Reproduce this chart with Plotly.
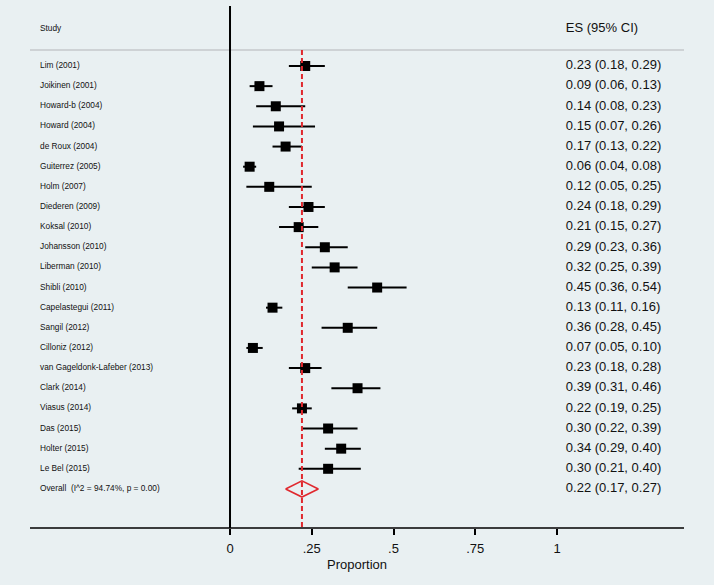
import plotly.graph_objects as go

# --- data ---
studies = [
    "Lim (2001)", "Joikinen (2001)", "Howard-b (2004)", "Howard (2004)",
    "de Roux (2004)", "Guiterrez (2005)", "Holm (2007)", "Diederen (2009)",
    "Koksal (2010)", "Johansson (2010)", "Liberman (2010)", "Shibli (2010)",
    "Capelastegui (2011)", "Sangil (2012)", "Cilloniz (2012)",
    "van Gageldonk-Lafeber (2013)", "Clark (2014)", "Viasus (2014)",
    "Das (2015)", "Holter (2015)", "Le Bel (2015)",
]
es = [0.23, 0.09, 0.14, 0.15, 0.17, 0.06, 0.12, 0.24, 0.21, 0.29, 0.32,
      0.45, 0.13, 0.36, 0.07, 0.23, 0.39, 0.22, 0.30, 0.34, 0.30]
ci_low = [0.18, 0.06, 0.08, 0.07, 0.13, 0.04, 0.05, 0.18, 0.15, 0.23, 0.25,
          0.36, 0.11, 0.28, 0.05, 0.18, 0.31, 0.19, 0.22, 0.29, 0.21]
ci_high = [0.29, 0.13, 0.23, 0.26, 0.22, 0.08, 0.25, 0.29, 0.27, 0.36, 0.39,
           0.54, 0.16, 0.45, 0.10, 0.28, 0.46, 0.25, 0.39, 0.40, 0.40]
overall_label = "Overall  (I^2 = 94.74%, p = 0.00)"
overall = [0.22, 0.17, 0.27]
x_ticks = [0, 0.25, 0.5, 0.75, 1]
x_ticklabels = ["0", ".25", ".5", ".75", "1"]

BG = "#e9f0f2"
RED = "#e0282e"
FONT = "Liberation Sans, Arial, sans-serif"

rows = list(range(len(studies)))
ov_row = len(studies)

fig = go.Figure()

# CI lines + squares
fig.add_trace(go.Scatter(
    x=es, y=rows, mode="markers",
    marker=dict(symbol="square", size=10, color="black"),
    error_x=dict(type="data", symmetric=False,
                 array=[h - e for h, e in zip(ci_high, es)],
                 arrayminus=[e - l for e, l in zip(es, ci_low)],
                 color="black", thickness=2, width=0),
    hoverinfo="skip", showlegend=False,
))

# overall diamond
fig.add_trace(go.Scatter(
    x=[overall[1], overall[0], overall[2], overall[0], overall[1]],
    y=[ov_row, ov_row - 0.4, ov_row, ov_row + 0.4, ov_row],
    mode="lines", line=dict(color=RED, width=1.6),
    hoverinfo="skip", showlegend=False,
))

# study labels
label_x = -0.581
fig.add_trace(go.Scatter(
    x=[label_x] * (len(studies) + 1), y=rows + [ov_row],
    text=studies + [overall_label], mode="text", textposition="middle right",
    textfont=dict(family=FONT, size=8.3, color="#111111"),
    hoverinfo="skip", showlegend=False, cliponaxis=False,
))

# ES column
es_text = [f"{e:.2f} ({l:.2f}, {h:.2f})" for e, l, h in zip(es, ci_low, ci_high)]
es_text.append(f"{overall[0]:.2f} ({overall[1]:.2f}, {overall[2]:.2f})")
fig.add_trace(go.Scatter(
    x=[1.027] * len(es_text), y=rows + [ov_row],
    text=es_text, mode="text", textposition="middle right",
    textfont=dict(family=FONT, size=13, color="#111111"),
    hoverinfo="skip", showlegend=False, cliponaxis=False,
))

# headers
fig.add_trace(go.Scatter(
    x=[label_x, 1.027], y=[-1.85, -1.85], text=["Study", "ES (95% CI)"],
    mode="text", textposition="middle right",
    textfont=dict(family=FONT, size=[8.3, 13], color="#111111"),
    hoverinfo="skip", showlegend=False, cliponaxis=False,
))

x0, x1 = -0.7034, 1.4801
px = lambda p: x0 + p / 714 * (x1 - x0)

shapes = [
    # header separator
    dict(type="line", xref="x", yref="y", x0=px(30), x1=px(684), y0=-0.79, y1=-0.79,
         line=dict(color="#c4c8cb", width=1.5)),
    # bottom axis line
    dict(type="line", xref="x", yref="paper", x0=px(30), x1=px(684), y0=0, y1=0,
         line=dict(color="black", width=1.5)),
    # null line
    dict(type="line", xref="x", yref="paper", x0=0, x1=0, y0=0, y1=1 - 6 / 528,
         line=dict(color="black", width=2)),
    # overall line
    dict(type="line", xref="x", yref="y", x0=overall[0], x1=overall[0], y0=-0.79, y1=22.94,
         line=dict(color=RED, width=2, dash="5px,3px")),
]

fig.update_layout(
    width=714, height=585,
    margin=dict(l=0, r=0, t=0, b=57),
    paper_bgcolor=BG, plot_bgcolor=BG,
    font=dict(family=FONT, color="#111111"),
    shapes=shapes,
    xaxis=dict(range=[x0, x1], showgrid=False, zeroline=False, showline=False,
               tickmode="array", tickvals=x_ticks, ticktext=x_ticklabels,
               ticks="outside", ticklen=6, tickwidth=1.5, tickcolor="black",
               tickfont=dict(size=13), ticklabelstandoff=2, fixedrange=True,
               title=dict(text="Proportion", font=dict(size=13), standoff=5)),
    yaxis=dict(range=[22.94, -3.277], showgrid=False, zeroline=False,
               showline=False, showticklabels=False, ticks="", fixedrange=True),
)

# drop the default page margin so the figure fills the window
fig.write_html("out.html", config={"displayModeBar": False},
               post_script="document.body.style.margin='0';document.body.style.background='%s';" % BG)
